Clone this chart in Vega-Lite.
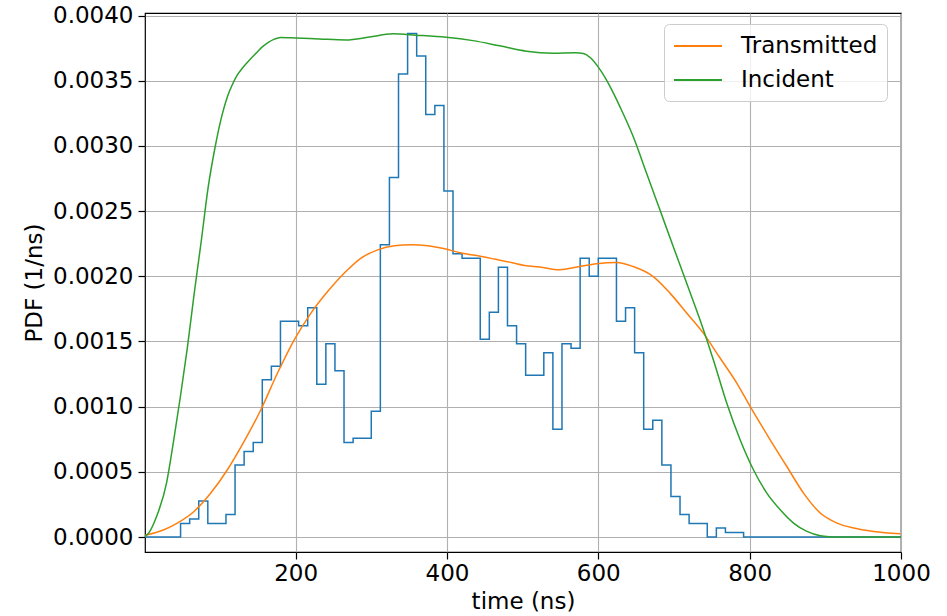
{
  "$schema": "https://vega.github.io/schema/vega-lite/v6.json",
  "width": 756,
  "height": 539,
  "autosize": {"type": "none"},
  "padding": {"left": 145, "top": 13, "right": 46, "bottom": 64},
  "background": "white",
  "config": {
    "font": "DejaVu Sans",
    "view": {"stroke": "black", "strokeWidth": 1.2},
    "axis": {
      "gridColor": "#b0b0b0", "gridWidth": 1.1, "gridOpacity": 1,
      "domain": false, "tickColor": "black", "tickSize": 7, "tickWidth": 1.2,
      "labelFont": "DejaVu Sans", "labelFontSize": 23, "labelColor": "black",
      "titleFont": "DejaVu Sans", "titleFontSize": 23, "titleFontWeight": "normal", "titleColor": "black",
      "labelFlush": false, "labelOverlap": false
    },
    "legend": {
      "labelFont": "DejaVu Sans", "labelFontSize": 23, "labelColor": "black"
    }
  },
  "datasets": {
    "hist": [
      {"t": 0, "pdf": 0}, {"t": 12, "pdf": 0}, {"t": 24, "pdf": 0}, {"t": 36, "pdf": 0},
      {"t": 48, "pdf": 0.0001034}, {"t": 60, "pdf": 0.0001379}, {"t": 72, "pdf": 0.0002758},
      {"t": 84, "pdf": 0.0001034}, {"t": 96, "pdf": 0.0001034}, {"t": 108, "pdf": 0.0001724},
      {"t": 120, "pdf": 0.0005517}, {"t": 132, "pdf": 0.0006551}, {"t": 144, "pdf": 0.0007241},
      {"t": 156, "pdf": 0.0012068}, {"t": 168, "pdf": 0.0013102}, {"t": 180, "pdf": 0.001655},
      {"t": 192, "pdf": 0.001655}, {"t": 204, "pdf": 0.0016206}, {"t": 216, "pdf": 0.0017585},
      {"t": 228, "pdf": 0.0011723}, {"t": 240, "pdf": 0.0014826}, {"t": 252, "pdf": 0.0012758},
      {"t": 264, "pdf": 0.0007241}, {"t": 276, "pdf": 0.0007586}, {"t": 288, "pdf": 0.0007586},
      {"t": 300, "pdf": 0.0009654}, {"t": 312, "pdf": 0.0022412}, {"t": 324, "pdf": 0.0027584},
      {"t": 336, "pdf": 0.0035514}, {"t": 348, "pdf": 0.0038618}, {"t": 360, "pdf": 0.0036894},
      {"t": 372, "pdf": 0.0032411}, {"t": 384, "pdf": 0.0033101}, {"t": 396, "pdf": 0.002655},
      {"t": 408, "pdf": 0.0021722}, {"t": 420, "pdf": 0.0021378}, {"t": 432, "pdf": 0.0021378},
      {"t": 444, "pdf": 0.0015171}, {"t": 456, "pdf": 0.001724}, {"t": 468, "pdf": 0.0020688},
      {"t": 480, "pdf": 0.0016206}, {"t": 492, "pdf": 0.0014826}, {"t": 504, "pdf": 0.0012413},
      {"t": 516, "pdf": 0.0012413}, {"t": 528, "pdf": 0.0014137}, {"t": 540, "pdf": 0.0008275},
      {"t": 552, "pdf": 0.0014826}, {"t": 564, "pdf": 0.0014482}, {"t": 576, "pdf": 0.0021378},
      {"t": 588, "pdf": 0.0019998}, {"t": 600, "pdf": 0.0021378}, {"t": 612, "pdf": 0.0021378},
      {"t": 624, "pdf": 0.001655}, {"t": 636, "pdf": 0.0017585}, {"t": 648, "pdf": 0.0014137},
      {"t": 660, "pdf": 0.0008275}, {"t": 672, "pdf": 0.0008965}, {"t": 684, "pdf": 0.0005517},
      {"t": 696, "pdf": 0.0003103}, {"t": 708, "pdf": 0.0001724}, {"t": 720, "pdf": 0.0001034},
      {"t": 732, "pdf": 0.0001034}, {"t": 744, "pdf": 0}, {"t": 756, "pdf": 0.000069},
      {"t": 768, "pdf": 0.0000345}, {"t": 780, "pdf": 0.0000345}, {"t": 792, "pdf": 0},
      {"t": 1000, "pdf": 0}
    ],
    "curves": [
      {"t": 0, "pdf": 0.000012, "series": "Transmitted"},
      {"t": 26.1, "pdf": 0.000056, "series": "Transmitted"},
      {"t": 43.7, "pdf": 0.000107, "series": "Transmitted"},
      {"t": 65.8, "pdf": 0.000196, "series": "Transmitted"},
      {"t": 87.9, "pdf": 0.000337, "series": "Transmitted"},
      {"t": 109.9, "pdf": 0.000516, "series": "Transmitted"},
      {"t": 132, "pdf": 0.000733, "series": "Transmitted"},
      {"t": 154.1, "pdf": 0.000976, "series": "Transmitted"},
      {"t": 176.1, "pdf": 0.001258, "series": "Transmitted"},
      {"t": 198.2, "pdf": 0.001513, "series": "Transmitted"},
      {"t": 220.3, "pdf": 0.001718, "series": "Transmitted"},
      {"t": 242.3, "pdf": 0.001883, "series": "Transmitted"},
      {"t": 264.4, "pdf": 0.002025, "series": "Transmitted"},
      {"t": 286.5, "pdf": 0.00214, "series": "Transmitted"},
      {"t": 308.5, "pdf": 0.002203, "series": "Transmitted"},
      {"t": 330.6, "pdf": 0.002234, "series": "Transmitted"},
      {"t": 352.7, "pdf": 0.002242, "series": "Transmitted"},
      {"t": 374.7, "pdf": 0.002234, "series": "Transmitted"},
      {"t": 396.8, "pdf": 0.002211, "series": "Transmitted"},
      {"t": 418.9, "pdf": 0.002178, "series": "Transmitted"},
      {"t": 440.9, "pdf": 0.002157, "series": "Transmitted"},
      {"t": 463, "pdf": 0.002132, "series": "Transmitted"},
      {"t": 485.1, "pdf": 0.002106, "series": "Transmitted"},
      {"t": 502.7, "pdf": 0.002083, "series": "Transmitted"},
      {"t": 522.6, "pdf": 0.002071, "series": "Transmitted"},
      {"t": 549, "pdf": 0.00205, "series": "Transmitted"},
      {"t": 575.5, "pdf": 0.002075, "series": "Transmitted"},
      {"t": 597.6, "pdf": 0.002096, "series": "Transmitted"},
      {"t": 624.1, "pdf": 0.002106, "series": "Transmitted"},
      {"t": 646.1, "pdf": 0.002075, "series": "Transmitted"},
      {"t": 672.6, "pdf": 0.001998, "series": "Transmitted"},
      {"t": 694.7, "pdf": 0.001871, "series": "Transmitted"},
      {"t": 716.8, "pdf": 0.001718, "series": "Transmitted"},
      {"t": 738.8, "pdf": 0.001564, "series": "Transmitted"},
      {"t": 760.9, "pdf": 0.001373, "series": "Transmitted"},
      {"t": 783, "pdf": 0.001181, "series": "Transmitted"},
      {"t": 800.6, "pdf": 0.001002, "series": "Transmitted"},
      {"t": 827.1, "pdf": 0.000746, "series": "Transmitted"},
      {"t": 849.1, "pdf": 0.000541, "series": "Transmitted"},
      {"t": 871.2, "pdf": 0.000337, "series": "Transmitted"},
      {"t": 893.3, "pdf": 0.000184, "series": "Transmitted"},
      {"t": 915.4, "pdf": 0.000107, "series": "Transmitted"},
      {"t": 937.4, "pdf": 0.000069, "series": "Transmitted"},
      {"t": 963.9, "pdf": 0.000043, "series": "Transmitted"},
      {"t": 999.2, "pdf": 0.000025, "series": "Transmitted"},
      {"t": 0, "pdf": 0, "series": "Incident"},
      {"t": 7, "pdf": 0.00004, "series": "Incident"},
      {"t": 15.9, "pdf": 0.000151, "series": "Incident"},
      {"t": 29.5, "pdf": 0.000416, "series": "Incident"},
      {"t": 38.7, "pdf": 0.000734, "series": "Incident"},
      {"t": 47.8, "pdf": 0.001078, "series": "Incident"},
      {"t": 56.9, "pdf": 0.001449, "series": "Incident"},
      {"t": 66.1, "pdf": 0.001872, "series": "Incident"},
      {"t": 75.3, "pdf": 0.002269, "series": "Incident"},
      {"t": 84.4, "pdf": 0.00268, "series": "Incident"},
      {"t": 93.6, "pdf": 0.00299, "series": "Incident"},
      {"t": 102.7, "pdf": 0.003235, "series": "Incident"},
      {"t": 110, "pdf": 0.00338, "series": "Incident"},
      {"t": 116.4, "pdf": 0.00347, "series": "Incident"},
      {"t": 123, "pdf": 0.003545, "series": "Incident"},
      {"t": 130.1, "pdf": 0.0036, "series": "Incident"},
      {"t": 140, "pdf": 0.003665, "series": "Incident"},
      {"t": 148.4, "pdf": 0.003715, "series": "Incident"},
      {"t": 156, "pdf": 0.00376, "series": "Incident"},
      {"t": 164, "pdf": 0.003795, "series": "Incident"},
      {"t": 172, "pdf": 0.00382, "series": "Incident"},
      {"t": 180, "pdf": 0.003833, "series": "Incident"},
      {"t": 200.4, "pdf": 0.003829, "series": "Incident"},
      {"t": 231.3, "pdf": 0.003821, "series": "Incident"},
      {"t": 266.6, "pdf": 0.003813, "series": "Incident"},
      {"t": 297.5, "pdf": 0.003835, "series": "Incident"},
      {"t": 328.4, "pdf": 0.00386, "series": "Incident"},
      {"t": 359.3, "pdf": 0.00385, "series": "Incident"},
      {"t": 399, "pdf": 0.003834, "series": "Incident"},
      {"t": 434.3, "pdf": 0.003808, "series": "Incident"},
      {"t": 469.6, "pdf": 0.003768, "series": "Incident"},
      {"t": 505, "pdf": 0.003727, "series": "Incident"},
      {"t": 540.2, "pdf": 0.003712, "series": "Incident"},
      {"t": 570, "pdf": 0.003715, "series": "Incident"},
      {"t": 580, "pdf": 0.00371, "series": "Incident"},
      {"t": 590, "pdf": 0.003675, "series": "Incident"},
      {"t": 600, "pdf": 0.003605, "series": "Incident"},
      {"t": 610, "pdf": 0.003515, "series": "Incident"},
      {"t": 620, "pdf": 0.003405, "series": "Incident"},
      {"t": 628.5, "pdf": 0.003302, "series": "Incident"},
      {"t": 646.1, "pdf": 0.003072, "series": "Incident"},
      {"t": 663.8, "pdf": 0.002791, "series": "Incident"},
      {"t": 681.4, "pdf": 0.00251, "series": "Incident"},
      {"t": 699, "pdf": 0.002229, "series": "Incident"},
      {"t": 716.7, "pdf": 0.001948, "series": "Incident"},
      {"t": 734.4, "pdf": 0.001666, "series": "Incident"},
      {"t": 752, "pdf": 0.00136, "series": "Incident"},
      {"t": 769.7, "pdf": 0.001028, "series": "Incident"},
      {"t": 787.4, "pdf": 0.000746, "series": "Incident"},
      {"t": 805, "pdf": 0.000516, "series": "Incident"},
      {"t": 822.7, "pdf": 0.000337, "series": "Incident"},
      {"t": 840.4, "pdf": 0.000209, "series": "Incident"},
      {"t": 858, "pdf": 0.000107, "series": "Incident"},
      {"t": 875.7, "pdf": 0.000043, "series": "Incident"},
      {"t": 893.3, "pdf": 0.00001, "series": "Incident"},
      {"t": 910, "pdf": 0.000001, "series": "Incident"},
      {"t": 950, "pdf": 0, "series": "Incident"},
      {"t": 1000, "pdf": 0, "series": "Incident"}
    ]
  },
  "layer": [
    {
      "data": {"name": "hist"},
      "mark": {"type": "line", "interpolate": "step-after", "color": "#1f77b4", "strokeWidth": 1.5, "clip": true},
      "encoding": {
        "x": {
          "field": "t", "type": "quantitative",
          "scale": {"domain": [1, 1000], "nice": false, "zero": false},
          "axis": {"title": "time (ns)", "values": [200, 400, 600, 800, 1000], "format": "d", "labelPadding": 3, "titlePadding": 5}
        },
        "y": {
          "field": "pdf", "type": "quantitative",
          "scale": {"domain": [-0.000115, 0.00402], "nice": false, "zero": false},
          "axis": {"title": "PDF (1/ns)", "values": [0, 0.0005, 0.001, 0.0015, 0.002, 0.0025, 0.003, 0.0035, 0.004], "format": ".4f", "labelPadding": 5, "titlePadding": 6}
        }
      }
    },
    {
      "data": {"name": "curves"},
      "mark": {"type": "line", "interpolate": "monotone", "strokeWidth": 1.5, "clip": true},
      "encoding": {
        "x": {"field": "t", "type": "quantitative"},
        "y": {"field": "pdf", "type": "quantitative"},
        "color": {
          "field": "series", "type": "nominal",
          "scale": {"domain": ["Transmitted", "Incident"], "range": ["#ff7f0e", "#2ca02c"]},
          "legend": {
            "title": null, "orient": "none", "legendX": 519, "legendY": 11,
            "fillColor": "rgba(255,255,255,0.8)", "strokeColor": "#cccccc", "cornerRadius": 5,
            "padding": 9, "symbolType": "M-1,0H3", "symbolStrokeWidth": 2, "symbolSize": 576,
            "symbolFillColor": "transparent",
            "labelOffset": 42, "rowPadding": 9
          }
        }
      }
    }
  ]
}
